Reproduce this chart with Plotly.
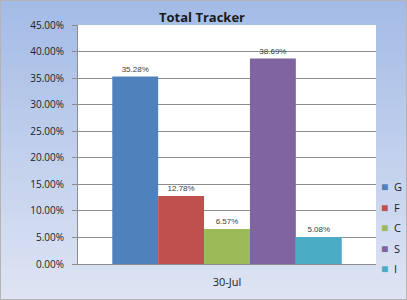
import plotly.graph_objects as go

categories = ["30-Jul"]
series_names = ["G", "F", "C", "S", "I"]
series_values = [35.28, 12.78, 6.57, 38.69, 5.08]
series_colors = ["#4f81bd", "#c0504d", "#9bbb59", "#8064a2", "#4bacc6"]
tick_vals = [0, 5, 10, 15, 20, 25, 30, 35, 40, 45]
tick_text = ["%.2f%%" % v for v in tick_vals]

W, H = 407, 300
ml, mr, mt, mb = 78, 31, 25, 36

fig = go.Figure()
for name, val, col in zip(series_names, series_values, series_colors):
    fig.add_trace(go.Bar(
        x=categories, y=[val], name=name, marker=dict(color=col, line=dict(width=0)),
        text=["%.2f%%" % val], textposition="outside",
        textfont=dict(size=8, color="#404040", family="Liberation Sans"),
        cliponaxis=False, showlegend=False,
    ))
# legend entries: coloured square glyph + series name
for name, col in zip(series_names, series_colors):
    fig.add_trace(go.Scatter(
        x=[None], y=[None], mode="markers", legendgroup=name,
        name='<span style="color:%s;font-size:12px">■</span>&nbsp;&nbsp;%s' % (col, name),
        marker=dict(symbol="square", size=1, color="rgba(0,0,0,0)"),
    ))

pw = W - ml - mr
ph = H - mt - mb
shapes = []
n = 60
top = (0xa3, 0xbb, 0xe6)
bot = (0xde, 0xe4, 0xf3)
for i in range(n):
    t = i / (n - 1)
    c = tuple(int(round(top[k] + (bot[k] - top[k]) * t)) for k in range(3))
    y0px = H * i / n
    y1px = H * (i + 1) / n + 0.6
    shapes.append(dict(
        type="rect", xref="paper", yref="paper", layer="below",
        x0=-ml / pw, x1=(pw + mr) / pw,
        y0=(H - mb - y1px) / ph, y1=(H - mb - y0px) / ph,
        fillcolor="rgb(%d,%d,%d)" % c, line=dict(width=0),
    ))
shapes.append(dict(type="rect", xref="paper", yref="paper", layer="below",
                   x0=0, x1=1, y0=0, y1=1, fillcolor="white", line=dict(width=0)))
shapes.append(dict(type="rect", xref="paper", yref="paper", layer="above",
                   x0=(-ml + 0.5) / pw, x1=(pw + mr - 0.5) / pw,
                   y0=(-mb + 0.5) / ph, y1=(ph + mt - 0.5) / ph,
                   fillcolor="rgba(0,0,0,0)", line=dict(width=1, color="#b4b4b4")))

fig.update_layout(
    width=W, height=H,
    margin=dict(l=ml, r=mr, t=mt, b=mb, autoexpand=False),
    paper_bgcolor="#dde3f3", plot_bgcolor="white",
    barmode="group", bargap=0.23, bargroupgap=0,
    shapes=shapes,
    title=dict(text="<b>Total Tracker</b>", x=202 / W, xanchor="center",
               y=1 - 17 / H, yanchor="middle",
               font=dict(family="Open Sans", size=13, color="#1a1a1a")),
    font=dict(family="Open Sans", color="#333333"),
    showlegend=True,
    legend=dict(xref="container", yref="container", x=341 / W, xanchor="left",
                y=1 - 228 / H, yanchor="middle",
                bgcolor="rgba(0,0,0,0)", font=dict(size=11, color="#222222"),
                itemwidth=30, tracegroupgap=1.5),
    xaxis=dict(showline=True, linecolor="#8c8c8c", ticks="", showgrid=False,
               tickfont=dict(size=11, color="#222222"), fixedrange=True,
               ticklabelstandoff=8),
    yaxis=dict(range=[0, 45], tickvals=tick_vals, ticktext=tick_text,
               showgrid=True, gridcolor="#8c8c8c", gridwidth=1,
               showline=True, linecolor="#8c8c8c", ticks="outside",
               ticklen=5, tickcolor="#8c8c8c", ticklabelstandoff=6,
               tickfont=dict(size=10, color="#222222"), zeroline=False),
)

fig.write_html("out.html")
